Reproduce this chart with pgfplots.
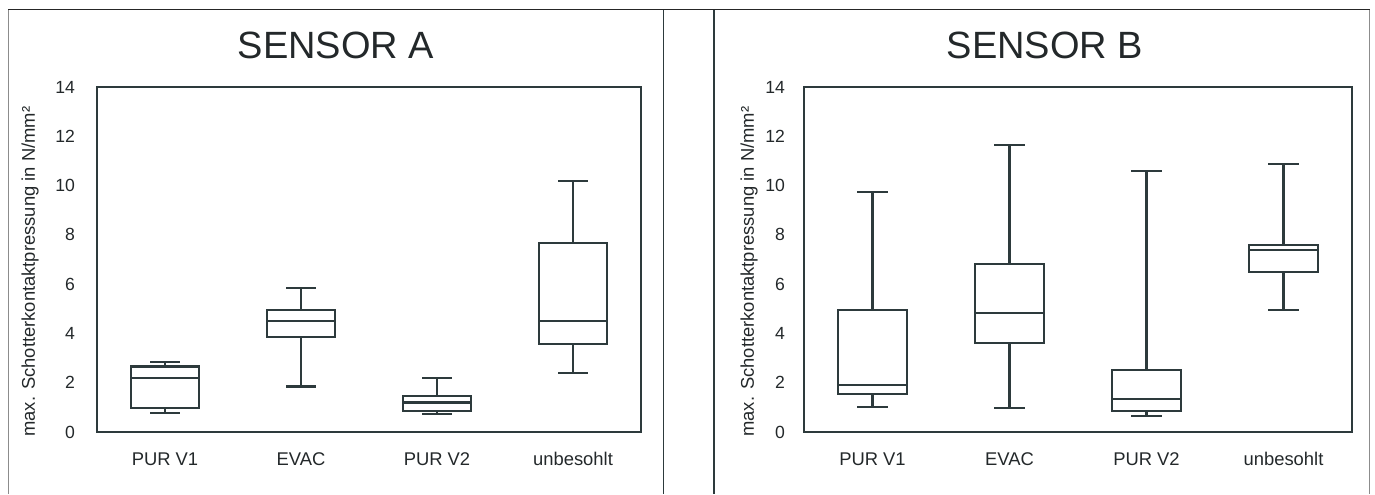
\documentclass[border=0pt]{standalone}
\usepackage{pgfplots}
\pgfplotsset{compat=1.18}
\usepgfplotslibrary{statistics}
\usepackage{fontspec}
\setmainfont{Liberation Sans}
\definecolor{ink}{RGB}{45,58,60}
\definecolor{txt}{RGB}{35,40,42}
\pgfplotsset{
  panel/.style={
    scale only axis,
    anchor=south west,
    width=272pt, height=172.5pt,
    xmin=0, xmax=4, ymin=0, ymax=14,
    xtick={0.5,1.5,2.5,3.5},
    xticklabels={PUR V1,EVAC,PUR V2,unbesohlt},
    ytick={0,2,4,6,8,10,12,14},
    major tick length=0pt,
    /pgf/number format/assume math mode=true,
    axis line style={ink, line width=0.95pt},
    yticklabel style={font=\fontsize{8.8}{11}\selectfont, text=txt},
    xticklabel style={font=\fontsize{9.2}{11}\selectfont, text=txt, yshift=-6pt, text height=7pt, text depth=0pt},
    ylabel={max. Schotterkontaktpressung in N/mm²},
    ylabel style={font=\fontsize{9.2}{11}\selectfont, text=txt, anchor=center},
    title style={font=\fontsize{19}{22}\selectfont, text=txt, at={(axis description cs:0.5,1)}, anchor=base, yshift=8.5pt, xshift=-16.5pt},
    boxplot/draw direction=y,
    boxplot/box extend=0.5,
    boxplot/whisker extend=0.22,
    every boxplot/.style={draw=ink, line width=1.1pt, solid},
    clip=false,
  }
}
\begin{document}
\begin{tikzpicture}
\path[use as bounding box] (0,0) rectangle (687.5pt,247pt);
% frame lines
\draw[black!85, line width=0.5pt] (4pt,242pt) -- (685pt,242pt);
\draw[black!45, line width=0.6pt] (4.2pt,242pt) -- (4.2pt,0pt);
\draw[ink, line width=0.7pt] (331.8pt,242pt) -- (331.8pt,0pt);
\draw[ink, line width=0.7pt] (357pt,242pt) -- (357pt,0pt);
\draw[black!45, line width=0.7pt] (684.7pt,242pt) -- (684.7pt,0pt);

\begin{axis}[panel, at={(48.5pt,31pt)}, title={SENSOR A},
  yticklabel style={xshift=-7.5pt},
  ylabel style={at={(axis description cs:-0.123,0.465)}}]
\addplot+[mark=none, boxplot prepared={draw position=0.5, lower whisker=0.77, lower quartile=0.97, median=2.20, upper quartile=2.66, upper whisker=2.85}] coordinates {};
\addplot+[mark=none, boxplot prepared={draw position=1.5, lower whisker=1.85, lower quartile=3.84, median=4.49, upper quartile=4.96, upper whisker=5.84}] coordinates {};
\addplot+[mark=none, boxplot prepared={draw position=2.5, lower whisker=0.72, lower quartile=0.84, median=1.20, upper quartile=1.45, upper whisker=2.19}] coordinates {};
\addplot+[mark=none, boxplot prepared={draw position=3.5, lower whisker=2.38, lower quartile=3.57, median=4.49, upper quartile=7.66, upper whisker=10.17}] coordinates {};
\end{axis}

\begin{axis}[panel, at={(402pt,31pt)}, width=274pt, title={SENSOR B},
  yticklabel style={xshift=-6pt},
  ylabel style={at={(axis description cs:-0.1,0.465)}}]
\addplot+[mark=none, boxplot prepared={draw position=0.5, lower whisker=1.03, lower quartile=1.54, median=1.91, upper quartile=4.96, upper whisker=9.73}] coordinates {};
\addplot+[mark=none, boxplot prepared={draw position=1.5, lower whisker=0.97, lower quartile=3.61, median=4.84, upper quartile=6.83, upper whisker=11.65}] coordinates {};
\addplot+[mark=none, boxplot prepared={draw position=2.5, lower whisker=0.66, lower quartile=0.84, median=1.33, upper quartile=2.50, upper whisker=10.58}] coordinates {};
\addplot+[mark=none, boxplot prepared={draw position=3.5, lower whisker=4.96, lower quartile=6.49, median=7.37, upper quartile=7.60, upper whisker=10.89}] coordinates {};
\end{axis}
\end{tikzpicture}
\end{document}
